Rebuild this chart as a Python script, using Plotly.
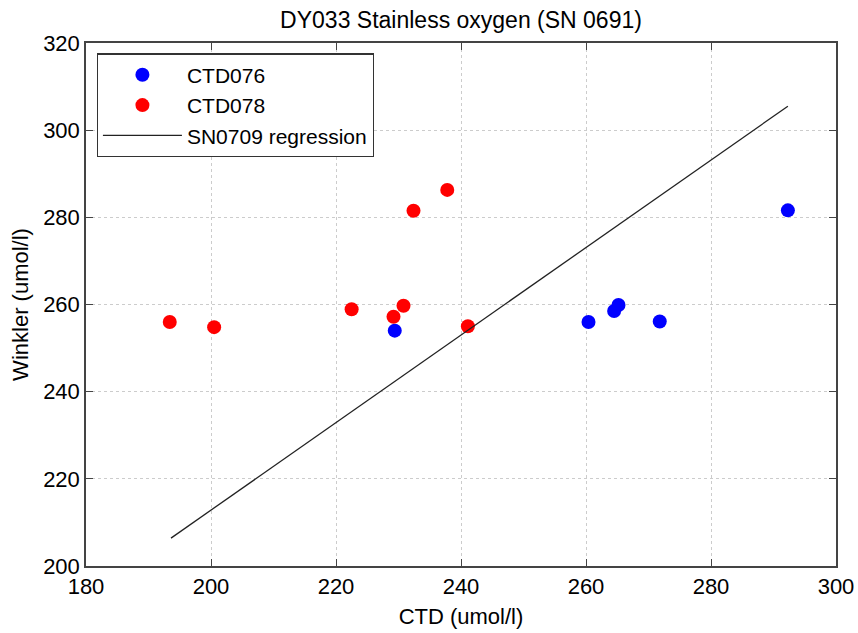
import plotly.graph_objects as go

# Data
ctd076_x = [229.4, 260.4, 264.5, 265.2, 271.8, 292.3]
ctd076_y = [254.0, 256.0, 258.5, 259.9, 256.1, 281.6]

ctd078_x = [193.4, 200.5, 222.5, 229.2, 230.8, 232.4, 237.8, 241.1]
ctd078_y = [256.0, 254.8, 258.9, 257.2, 259.7, 281.5, 286.3, 255.0]

reg_x = [193.6, 292.3]
reg_y = [206.4, 305.5]

x_ticks = [180, 200, 220, 240, 260, 280, 300]
y_ticks = [200, 220, 240, 260, 280, 300, 320]

FONT = "Liberation Sans, Arial, sans-serif"

fig = go.Figure()
fig.add_trace(go.Scatter(x=ctd076_x, y=ctd076_y, mode="markers", name="CTD076",
                         marker=dict(color="#0000ff", size=14, line=dict(width=0))))
fig.add_trace(go.Scatter(x=ctd078_x, y=ctd078_y, mode="markers", name="CTD078",
                         marker=dict(color="#ff0000", size=14, line=dict(width=0))))
fig.add_trace(go.Scatter(x=reg_x, y=reg_y, mode="lines", name="SN0709 regression",
                         line=dict(color="#222222", width=1.3)))

axis_common = dict(
    showline=True, linecolor="#444444", linewidth=1.5, mirror="ticks",
    ticks="inside", ticklen=7, tickcolor="#444444", tickwidth=1.2,
    showgrid=True, gridcolor="#cccccc", griddash="dot", gridwidth=1,
    zeroline=False, automargin=False,
    tickfont=dict(family=FONT, size=22, color="black"),
)

fig.update_xaxes(range=[180, 300], tickvals=x_ticks, ticktext=[str(v) for v in x_ticks],
                 title=dict(text="CTD (umol/l)", font=dict(family=FONT, size=22, color="black"), standoff=10),
                 **axis_common)
fig.update_yaxes(range=[200, 320], tickvals=y_ticks, ticktext=[str(v) for v in y_ticks],
                 title=dict(text="Winkler (umol/l)", font=dict(family=FONT, size=22, color="black"), standoff=8),
                 **axis_common)

fig.update_layout(
    width=858, height=633,
    margin=dict(l=86, r=22, t=43, b=67, autoexpand=False),
    paper_bgcolor="white", plot_bgcolor="white",
    title=dict(text="DY033 Stainless oxygen (SN 0691)", x=(86 + 836) / 2 / 858, xanchor="center",
               y=1 - 20 / 633, yanchor="middle", yref="container",
               font=dict(family=FONT, size=23, color="black")),
    legend=dict(x=0.0143, y=0.980, xanchor="left", yanchor="top",
                bgcolor="white", bordercolor="#333333", borderwidth=1.2,
                font=dict(family=FONT, size=21, color="black"),
                tracegroupgap=0, itemwidth=79),
    showlegend=True,
)

fig.write_html("out.html")
